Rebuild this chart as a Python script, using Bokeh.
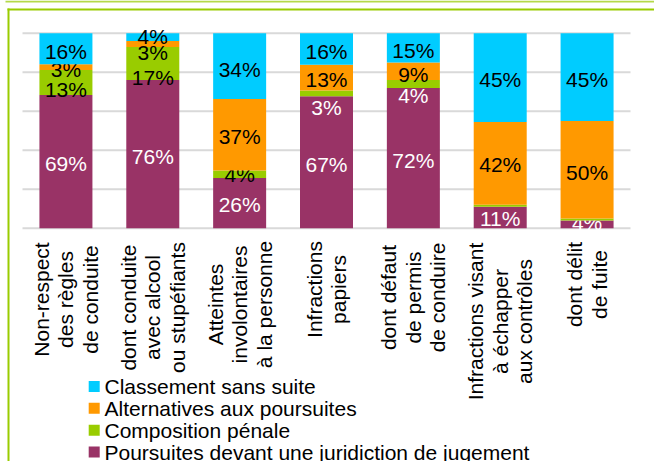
import numpy as np
from bokeh.plotting import figure
from bokeh.models import Range1d
from bokeh.core.properties import value
from bokeh.embed import file_html
from bokeh.resources import INLINE

# ---------------- data ----------------
categories = [
    "Non-respect\ndes règles\nde conduite",
    "dont conduite\navec alcool\nou stupéfiants",
    "Atteintes\ninvolontaires\nà la personne",
    "Infractions\npapiers",
    "dont défaut\nde permis\nde conduire",
    "Infractions visant\nà échapper\naux contrôles",
    "dont délit\nde fuite",
]
series_names = [
    "Classement sans suite",
    "Alternatives aux poursuites",
    "Composition pénale",
    "Poursuites devant une juridiction de jugement",
]
classement = [16, 4, 34, 16, 15, 45, 45]
alternatives = [3, 3, 37, 13, 9, 42, 50]
composition = [13, 17, 4, 3, 4, 1, 1]
poursuites = [69, 76, 26, 67, 72, 11, 4]
grid_ticks = [0, 20, 40, 60, 80, 100]

# ---------------- style / layout ----------------
COL_CYAN = "#00CCFF"
COL_ORANGE = "#FF9900"
COL_GREEN = "#99CC00"
COL_PURPLE = "#993366"
FONT = "Liberation Sans"
FS = "21px"

W, H = 654, 461
X0PX, XSLOT = 22.0, 608.0 / 7
Y0PX, PXPCT = 227.8, 1.95
BAR_W = 53.0 / XSLOT


def px_x(px):
    return (px - X0PX) / XSLOT


def px_y(py):
    return (Y0PX - py) / PXPCT


# label nudges in pixels (positive = down), label colours
nudge = {
    "purple": [1.5, 2.3, 1.6, 2.2, 2.1, 1.1, -2.4],
    "green": [7.4, 13.9, 0.7, 14.0, 11.7, -9.5, -16.7],
    "orange": [2.3, 8.8, 1.6, 2.0, 3.2, 1.4, 3.1],
    "cyan": [2.5, -0.4, 3.5, 2.4, 2.8, 1.8, 2.3],
}
label_colors = {
    "purple": ["white"] * 7,
    "green": ["black", "black", "black", "white", "white", "black", "black"],
    "orange": ["black"] * 7,
    "cyan": ["black"] * 7,
}
CAT_LABEL_CENTER_PX = [299, 307, 304, 289, 297, 321, 284]
LEGEND_ROWS_PX = [386, 407.8, 429.8, 451.6]

p = figure(
    width=W, height=H,
    x_range=Range1d(px_x(0), px_x(W)),
    y_range=Range1d(px_y(H), px_y(0)),
    x_axis_type=None, y_axis_type=None,
    toolbar_location=None, output_backend="svg",
    min_border=0, outline_line_color=None,
)
p.min_border_left = p.min_border_right = p.min_border_top = p.min_border_bottom = 0
p.background_fill_color = "white"
p.border_fill_color = "white"

# frame decorations
p.segment(x0=[px_x(5)], x1=[px_x(W)], y0=[px_y(1)], y1=[px_y(1)],
          line_color="#B4D94A", line_width=2)
p.segment(x0=[px_x(7)], x1=[px_x(W)], y0=[px_y(9)], y1=[px_y(9)],
          line_color=COL_GREEN, line_width=2)
p.segment(x0=[px_x(8)], x1=[px_x(8)], y0=[px_y(8)], y1=[px_y(H)],
          line_color=COL_GREEN, line_width=2)

# gridlines
n = len(categories)
p.segment(x0=[0] * len(grid_ticks), x1=[n] * len(grid_ticks),
          y0=grid_ticks, y1=grid_ticks, line_color="#D9D9D9", line_width=2)

# stacked 100% bars
xs = [i + 0.5 for i in range(n)]
totals = [a + b + c + d for a, b, c, d in zip(classement, alternatives, composition, poursuites)]
stack = [
    ("purple", poursuites, COL_PURPLE),
    ("green", composition, COL_GREEN),
    ("orange", alternatives, COL_ORANGE),
    ("cyan", classement, COL_CYAN),
]
bottom = [0.0] * n
for key, vals, col in stack:
    pct = [v / t * 100 for v, t in zip(vals, totals)]
    top = [b + q for b, q in zip(bottom, pct)]
    p.vbar(x=xs, width=BAR_W, bottom=bottom, top=top, fill_color=col, line_color=None)
    ly = [(b + t) / 2 - d / PXPCT for b, t, d in zip(bottom, top, nudge[key])]
    p.text(x=xs, y=ly, text=[f"{v}%" for v in vals], text_color=label_colors[key],
           text_font=value(FONT), text_font_size=FS,
           text_align="center", text_baseline="middle")
    bottom = top

# category labels (rotated)
p.text(x=xs, y=[px_y(c) for c in CAT_LABEL_CENTER_PX], text=categories,
       angle=np.pi / 2, text_align="center", text_baseline="middle",
       text_font=value(FONT), text_font_size=FS, text_color="black",
       text_line_height=1.06)

# legend
leg_colors = [COL_CYAN, COL_ORANGE, COL_GREEN, COL_PURPLE]
ly = [px_y(r) for r in LEGEND_ROWS_PX]
p.rect(x=[px_x(93.7)] * 4, y=ly, width=11, height=11,
       width_units="screen", height_units="screen",
       fill_color=leg_colors, line_color=None)
p.text(x=[px_x(104)] * 4, y=ly, text=series_names, text_align="left",
       text_baseline="middle", text_font=value(FONT), text_font_size=FS,
       text_color="black")

open("out.html", "w").write(file_html(p, INLINE))
